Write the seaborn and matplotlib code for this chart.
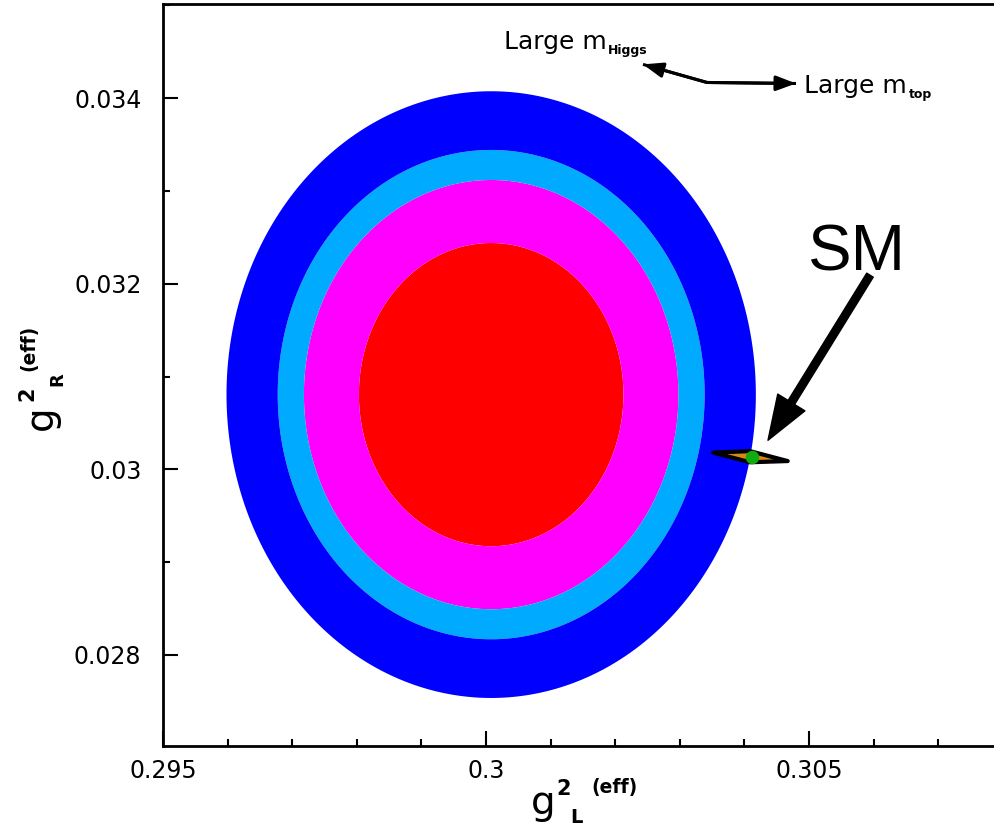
import numpy as np
import matplotlib
matplotlib.use("Agg")
import matplotlib.pyplot as plt
from matplotlib.ticker import MultipleLocator
import seaborn as sns

# Fit of the effective couplings (g_L^2, g_R^2): centre and 1-sigma widths
fit_center = [0.30008, 0.030805]
fit_sigma = [0.00135, 0.001077]
# Delta chi^2 for 68.3%, 90%, 95% and 99% CL with two parameters
cl_delta_chi2 = [2.30, 4.61, 5.99, 9.21]
cl_colors = ["#FF0000", "#FF00FF", "#00AAFF", "#0000FF"]

# Standard Model prediction and its band over the allowed m_top / m_Higgs range
sm_point = [0.304122, 0.030133]
sm_band_x = [0.303519, 0.304087, 0.304670, 0.304087]
sm_band_y = [0.030180, 0.030196, 0.030089, 0.030076]

# Arrow pointing at the SM prediction, with its label position
sm_arrow_tail = [0.305944, 0.032092]
sm_arrow_tip = [0.304365, 0.030313]
sm_label_pos = [0.305739, 0.032146]

# Direction in which the SM prediction moves for large Higgs / top masses
mass_arrow_x = [0.302430, 0.303421, 0.304799]
mass_arrow_y = [0.034363, 0.034168, 0.034157]
higgs_label_pos = [0.300279, 0.034532]
top_label_pos = [0.304930, 0.034054]

x_ticks = [0.295, 0.300, 0.305]
x_tick_labels = ["0.295", "0.3", "0.305"]
y_ticks = [0.028, 0.030, 0.032, 0.034]
y_tick_labels = ["0.028", "0.03", "0.032", "0.034"]
x_range = [0.295, 0.307879]
y_range = [0.027019, 0.0350135]

sns.set_style("ticks")
plt.rcParams["font.family"] = ["DejaVu Sans"]
plt.rcParams["text.color"] = "black"
plt.rcParams["axes.labelcolor"] = "black"

W, H = 995, 826
fig = plt.figure(figsize=(W / 100, H / 100), dpi=100)
ax = fig.add_axes([163 / W, 1 - 746 / H, (W - 163) / W, (746 - 4) / H])


def px(x, y):
    return x / W, 1 - y / H


# confidence regions from the chi^2 surface
gx = np.linspace(x_range[0], x_range[1], 900)
gy = np.linspace(y_range[0], y_range[1], 900)
GX, GY = np.meshgrid(gx, gy)
chi2 = ((GX - fit_center[0]) / fit_sigma[0]) ** 2 + ((GY - fit_center[1]) / fit_sigma[1]) ** 2
ax.contourf(GX, GY, chi2, levels=[0] + cl_delta_chi2, colors=cl_colors,
            antialiased=True, zorder=1)

# SM band and point
ax.fill(sm_band_x, sm_band_y, facecolor="#D88A10", edgecolor="black",
        linewidth=3.0, joinstyle="round", zorder=3)
sns.scatterplot(x=[sm_point[0]], y=[sm_point[1]], color="#11AA11", s=95,
                linewidth=0, ax=ax, zorder=4, legend=False)

ax.annotate("", xy=sm_arrow_tip, xytext=sm_arrow_tail,
            arrowprops=dict(facecolor="black", edgecolor="black", width=5.5,
                            headwidth=23, headlength=32, shrink=0), zorder=5)
ax.text(sm_label_pos[0], sm_label_pos[1], "SM", fontsize=47,
        family=["Liberation Sans"], ha="center", va="baseline", zorder=5)

# mass-direction arrow
ax.plot(mass_arrow_x, mass_arrow_y, color="black", lw=2.2, solid_capstyle="butt", zorder=5)
head = dict(arrowstyle="-|>,head_length=1.2,head_width=0.45", mutation_scale=10,
            lw=2.2, color="black", shrinkA=0, shrinkB=0)
ax.annotate("", xy=(mass_arrow_x[0], mass_arrow_y[0]),
            xytext=(mass_arrow_x[1], mass_arrow_y[1]), arrowprops=head, zorder=5)
ax.annotate("", xy=(mass_arrow_x[2], mass_arrow_y[2]),
            xytext=(mass_arrow_x[1], mass_arrow_y[1]), arrowprops=head, zorder=5)

t_h = ax.text(higgs_label_pos[0], higgs_label_pos[1], "Large m", fontsize=18,
              ha="left", va="baseline")
ax.annotate("Higgs", xy=(1, 0), xycoords=t_h, xytext=(1, 0), textcoords="offset points",
            fontsize=9, fontweight="bold", ha="left", va="baseline")
t_t = ax.text(top_label_pos[0], top_label_pos[1], "Large m", fontsize=18,
              ha="left", va="baseline")
ax.annotate("top", xy=(1, 0), xycoords=t_t, xytext=(1, 0), textcoords="offset points",
            fontsize=9, fontweight="bold", ha="left", va="baseline")

# axes
ax.set_xlim(x_range)
ax.set_ylim(y_range)
ax.set_xticks(x_ticks, x_tick_labels)
ax.set_yticks(y_ticks, y_tick_labels)
ax.xaxis.set_minor_locator(MultipleLocator(0.001))
ax.yaxis.set_minor_locator(MultipleLocator(0.001))
ax.tick_params(which="major", direction="in", length=10.8, width=1.5,
               labelsize=17, colors="black", top=False, right=False)
ax.tick_params(which="minor", direction="in", length=5, width=1.5,
               colors="black", top=False, right=False)
ax.tick_params(axis="y", which="major", pad=15.5)
ax.tick_params(axis="x", which="major", pad=9.5)
for side in ["left", "bottom", "top"]:
    ax.spines[side].set_linewidth(2)
    ax.spines[side].set_color("black")
ax.spines["right"].set_visible(False)
ax.grid(False)

# axis titles: g_L^2 (eff) and g_R^2 (eff)
fig.text(*px(531, 814), "g", fontsize=28, ha="left", va="baseline")
fig.text(*px(556, 795), "2", fontsize=15, fontweight="bold", ha="left", va="baseline")
fig.text(*px(570, 823), "L", fontsize=14, fontweight="bold", ha="left", va="baseline")
fig.text(*px(591, 792.5), "(eff)", fontsize=13.5, fontweight="bold", ha="left", va="baseline")

rot = dict(rotation=90, rotation_mode="anchor", ha="left", va="baseline")
fig.text(*px(52, 430), "g", fontsize=28, **rot)
fig.text(*px(33, 401), "2", fontsize=15, fontweight="bold", **rot)
fig.text(*px(62, 386), "R", fontsize=13, fontweight="bold", **rot)
fig.text(*px(34.5, 371), "(eff)", fontsize=13.5, fontweight="bold", **rot)

fig.savefig("out.png", dpi=100)
